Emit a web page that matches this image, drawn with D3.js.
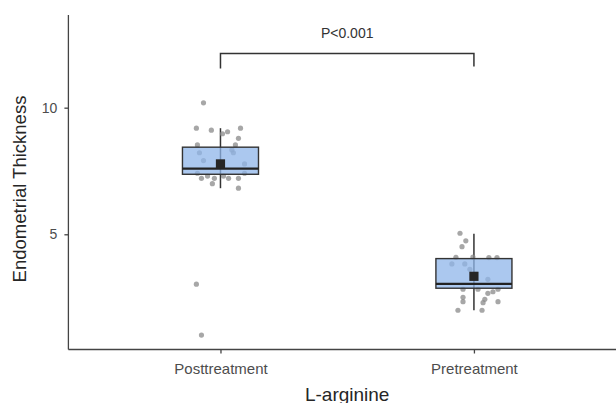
<!DOCTYPE html>
<html>
<head>
<meta charset="utf-8">
<script src="https://cdn.jsdelivr.net/npm/d3@7"></script>
<style>
  body { margin: 0; background: #fff; }
  svg { display: block; font-family: "Liberation Sans", Arial, sans-serif; }
</style>
</head>
<body>
<svg id="chart" width="616" height="403"></svg>
<script>
// groups on the x axis
var categories = ["Posttreatment", "Pretreatment"];

// box summaries
var q1 = [7.37, 2.87];
var medians = [7.59, 3.04];
var q3 = [8.44, 4.04];
var whiskerLow = [6.82, 2.0];
var whiskerHigh = [9.19, 5.02];
var means = [7.78, 3.34];

// jittered raw points: value and horizontal jitter (in category steps)
var postValues = [10.19, 9.19, 9.11, 8.97, 9.05, 9.19, 8.79, 8.53, 8.53, 8.22, 8.22, 8.33, 7.91, 7.78,
  7.41, 7.21, 7.30, 7.0, 7.21, 7.30, 7.21, 7.21, 6.82, 7.41, 3.03, 1.02];
var postJitter = [-0.067, -0.095, -0.036, 0.008, 0.028, 0.079, 0.071, -0.091, 0.059, -0.083, 0.051, 0.045, -0.067, 0.095,
  -0.091, -0.075, -0.051, -0.032, -0.024, 0.012, 0.032, 0.071, 0.071, 0.095, -0.095, -0.075];
var preValues = [5.04, 4.74, 4.51, 4.09, 4.10, 4.08, 4.08, 3.83, 3.83, 3.62, 3.22, 2.83, 2.83, 2.67,
  2.73, 2.83, 2.51, 2.34, 2.43, 2.30, 2.34, 2.0, 2.0];
var preJitter = [-0.055, -0.032, -0.047, -0.071, -0.004, 0.059, 0.091, -0.087, -0.036, -0.016, 0.055, -0.043, 0.016, 0.055,
  0.075, 0.095, -0.043, -0.043, 0.043, 0.036, 0.095, -0.063, 0.032];

var yTicks = [5, 10];
var pLabel = "P<0.001";
var bracketY = 12.14;
var bracketTips = [11.55, 11.63];

var svg = d3.select("#chart");

var x = d3.scalePoint().domain(categories).range([68.4, 626]).padding(0.6);
var y = d3.scaleLinear().domain([0.45, 13.66]).range([349.5, 15]);
var step = x.step();
var boxW = step * 0.3;

// raw points first so the box sits over them
var points = [];
postValues.forEach(function (v, i) { points.push({ cat: categories[0], v: v, j: postJitter[i] }); });
preValues.forEach(function (v, i) { points.push({ cat: categories[1], v: v, j: preJitter[i] }); });

// boxes
var boxes = categories.map(function (c, i) {
  return { cat: c, q1: q1[i], med: medians[i], q3: q3[i], lo: whiskerLow[i], hi: whiskerHigh[i], mean: means[i] };
});

var g = svg.append("g");

g.selectAll("line.whisker").data(boxes).enter().append("line")
  .attr("class", "whisker")
  .attr("x1", function (d) { return x(d.cat); })
  .attr("x2", function (d) { return x(d.cat); })
  .attr("y1", function (d) { return y(d.lo); })
  .attr("y2", function (d) { return y(d.hi); })
  .attr("stroke", "#333")
  .attr("stroke-width", 1.5);

g.selectAll("circle.pt").data(points).enter().append("circle")
  .attr("class", "pt")
  .attr("cx", function (d) { return x(d.cat) + d.j * step; })
  .attr("cy", function (d) { return y(d.v); })
  .attr("r", 2.6)
  .attr("fill", "#8a8a8a")
  .attr("fill-opacity", 0.75);

g.selectAll("rect.box").data(boxes).enter().append("rect")
  .attr("class", "box")
  .attr("x", function (d) { return x(d.cat) - boxW / 2; })
  .attr("width", boxW)
  .attr("y", function (d) { return y(d.q3); })
  .attr("height", function (d) { return y(d.q1) - y(d.q3); })
  .attr("fill", "#8fb6ea")
  .attr("fill-opacity", 0.75)
  .attr("stroke", "#333")
  .attr("stroke-width", 1.4);

g.selectAll("line.median").data(boxes).enter().append("line")
  .attr("class", "median")
  .attr("x1", function (d) { return x(d.cat) - boxW / 2; })
  .attr("x2", function (d) { return x(d.cat) + boxW / 2; })
  .attr("y1", function (d) { return y(d.med); })
  .attr("y2", function (d) { return y(d.med); })
  .attr("stroke", "#222")
  .attr("stroke-width", 2.2);

g.selectAll("rect.mean").data(boxes).enter().append("rect")
  .attr("class", "mean")
  .attr("x", function (d) { return x(d.cat) - 4.6; })
  .attr("y", function (d) { return y(d.mean) - 4.6; })
  .attr("width", 9.2)
  .attr("height", 9.2)
  .attr("fill", "#262626");

// axes
var yAxis = svg.append("g")
  .attr("transform", "translate(68.4,0)")
  .call(d3.axisLeft(y).tickValues(yTicks).tickSize(4).tickPadding(7));
var xAxis = svg.append("g")
  .attr("transform", "translate(0,349.5)")
  .call(d3.axisBottom(x).tickSize(4).tickPadding(10));

[yAxis, xAxis].forEach(function (ax) {
  ax.select(".domain").attr("stroke", "#444").attr("stroke-width", 1.3);
  ax.selectAll(".tick line").attr("stroke", "#444").attr("stroke-width", 1.3);
  ax.selectAll(".tick text").attr("fill", "#4d4d4d")
    .style("font-family", "Liberation Sans, Arial, sans-serif");
});
yAxis.selectAll(".tick text").style("font-size", "14px");
xAxis.selectAll(".tick text").style("font-size", "15px");
yAxis.select(".domain").attr("d", "M0," + y.range()[0] + "V" + y.range()[1]);
xAxis.select(".domain").attr("d", "M" + 68.4 + ",0H616");

// titles
svg.append("text")
  .attr("transform", "translate(26,189) rotate(-90)")
  .attr("text-anchor", "middle")
  .attr("fill", "#262626")
  .style("font-size", "18.5px")
  .text("Endometrial Thickness");

svg.append("text")
  .attr("x", (x(categories[0]) + x(categories[1])) / 2)
  .attr("y", 400.5)
  .attr("text-anchor", "middle")
  .attr("fill", "#262626")
  .style("font-size", "19px")
  .text("L-arginine");

// significance bracket
var bx0 = x(categories[0]), bx1 = x(categories[1]);
svg.append("path")
  .attr("d", "M" + bx0 + "," + y(bracketTips[0]) + "V" + y(bracketY) + "H" + bx1 + "V" + y(bracketTips[1]))
  .attr("fill", "none")
  .attr("stroke", "#333")
  .attr("stroke-width", 1.5);

svg.append("text")
  .attr("x", (bx0 + bx1) / 2)
  .attr("y", y(bracketY) - 15)
  .attr("text-anchor", "middle")
  .attr("fill", "#333")
  .style("font-size", "14px")
  .text(pLabel);
</script>
</body>
</html>
